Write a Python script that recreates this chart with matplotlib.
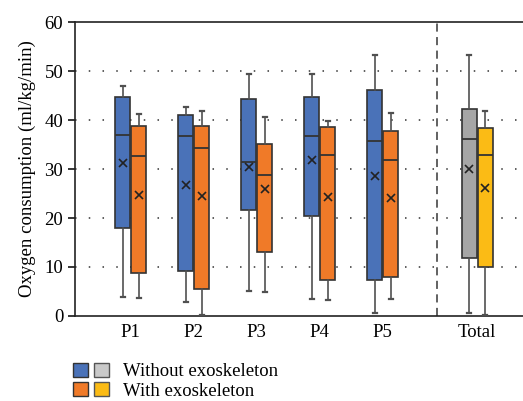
import matplotlib
matplotlib.use("Agg")
import matplotlib.pyplot as plt
from matplotlib.patches import Patch
from matplotlib.legend_handler import HandlerTuple

plt.rcParams["font.family"] = ["Liberation Serif", "DejaVu Serif"]

groups = ["P1", "P2", "P3", "P4", "P5", "Total"]
group_pos = [1, 2, 3, 4, 5, 6.5]

# box statistics: whisker low, q1, median, q3, whisker high, mean
without_lo = [3.9, 2.9, 5.1, 3.4, 0.6, 0.6]
without_q1 = [18.0, 9.2, 21.6, 20.4, 7.4, 11.9]
without_med = [36.9, 36.7, 31.4, 36.8, 35.8, 36.1]
without_q3 = [44.8, 41.1, 44.2, 44.8, 46.1, 42.2]
without_hi = [46.9, 42.6, 49.4, 49.4, 53.2, 53.2]
without_mean = [31.3, 26.8, 30.5, 31.8, 28.6, 30.0]

with_lo = [3.7, 0.1, 4.9, 3.3, 3.4, 0.1]
with_q1 = [8.8, 5.6, 13.0, 7.4, 7.9, 9.9]
with_med = [32.7, 34.3, 28.7, 32.9, 31.8, 32.8]
with_q3 = [38.8, 38.7, 35.2, 38.6, 37.8, 38.4]
with_hi = [41.3, 41.9, 40.6, 39.9, 41.4, 41.8]
with_mean = [24.7, 24.4, 25.9, 24.2, 24.0, 26.1]

blue, orange = "#4a72b8", "#f07a28"
gray, yellow = "#a6a6a6", "#fbbb15"
edge = "#333333"


def make_stats(lo, q1, med, q3, hi, mean):
    return [dict(whislo=a, q1=b, med=c, q3=d, whishi=e, mean=f, fliers=[])
            for a, b, c, d, e, f in zip(lo, q1, med, q3, hi, mean)]


fig = plt.figure(figsize=(5.23, 4.01), dpi=100)
ax = fig.add_axes([0.1434, 0.212, 0.8566, 0.733])

off = 0.127
width = 0.235
common = dict(widths=width, showmeans=True, patch_artist=True, manage_ticks=False,
              medianprops=dict(color=edge, linewidth=1.3),
              whiskerprops=dict(color="#505050", linewidth=1.2),
              capprops=dict(color="#505050", linewidth=1.6),
              meanprops=dict(marker="x", markeredgecolor="#222222", markersize=5.5,
                             markeredgewidth=1.2),
              boxprops=dict(edgecolor=edge, linewidth=1.2),
              capwidths=0.06, zorder=3)

s_without = make_stats(without_lo, without_q1, without_med, without_q3, without_hi, without_mean)
s_with = make_stats(with_lo, with_q1, with_med, with_q3, with_hi, with_mean)

b1 = ax.bxp(s_without, positions=[p - off for p in group_pos], **common)
b2 = ax.bxp(s_with, positions=[p + off for p in group_pos], **common)
for i, box in enumerate(b1["boxes"]):
    box.set_facecolor(gray if groups[i] == "Total" else blue)
for i, box in enumerate(b2["boxes"]):
    box.set_facecolor(yellow if groups[i] == "Total" else orange)

for yv in [10, 20, 30, 40, 50]:
    ax.axhline(yv, color="#333333", linestyle=(0, (1, 8)), linewidth=1.1, zorder=1)
ax.axvline(5.86, color="#555555", linestyle=(0, (4.5, 3)), linewidth=1.3, zorder=2)

ax.set_xlim(0.116, 7.227)
ax.set_ylim(0, 60)
ax.set_yticks([0, 10, 20, 30, 40, 50, 60])
ax.set_xticks(group_pos)
ax.set_xticklabels(groups)
ax.tick_params(axis="x", length=0, labelsize=13.5, pad=6)
ax.tick_params(axis="y", length=5, width=1.1, labelsize=13.5, direction="out")
ax.spines["right"].set_visible(False)
for s in ["left", "bottom", "top"]:
    ax.spines[s].set_linewidth(1.2)
    ax.spines[s].set_color("#222222")
ax.set_ylabel("Oxygen consumption (ml/kg/min)", fontsize=13.5, labelpad=6)

handles = [(Patch(facecolor=blue, edgecolor=edge), Patch(facecolor="#c9c9c9", edgecolor="#555555")),
           (Patch(facecolor=orange, edgecolor=edge), Patch(facecolor=yellow, edgecolor="#555555"))]
fig.legend(handles, ["Without exoskeleton", "With exoskeleton"],
           handler_map={tuple: HandlerTuple(ndivide=None, pad=0.33)},
           loc="lower left", bbox_to_anchor=(0.115, -0.03), frameon=False,
           fontsize=13.5, handlelength=1.89, handleheight=0.78, handletextpad=0.75,
           labelspacing=0.1, borderpad=0.2)

fig.savefig("out.png", dpi=100)
